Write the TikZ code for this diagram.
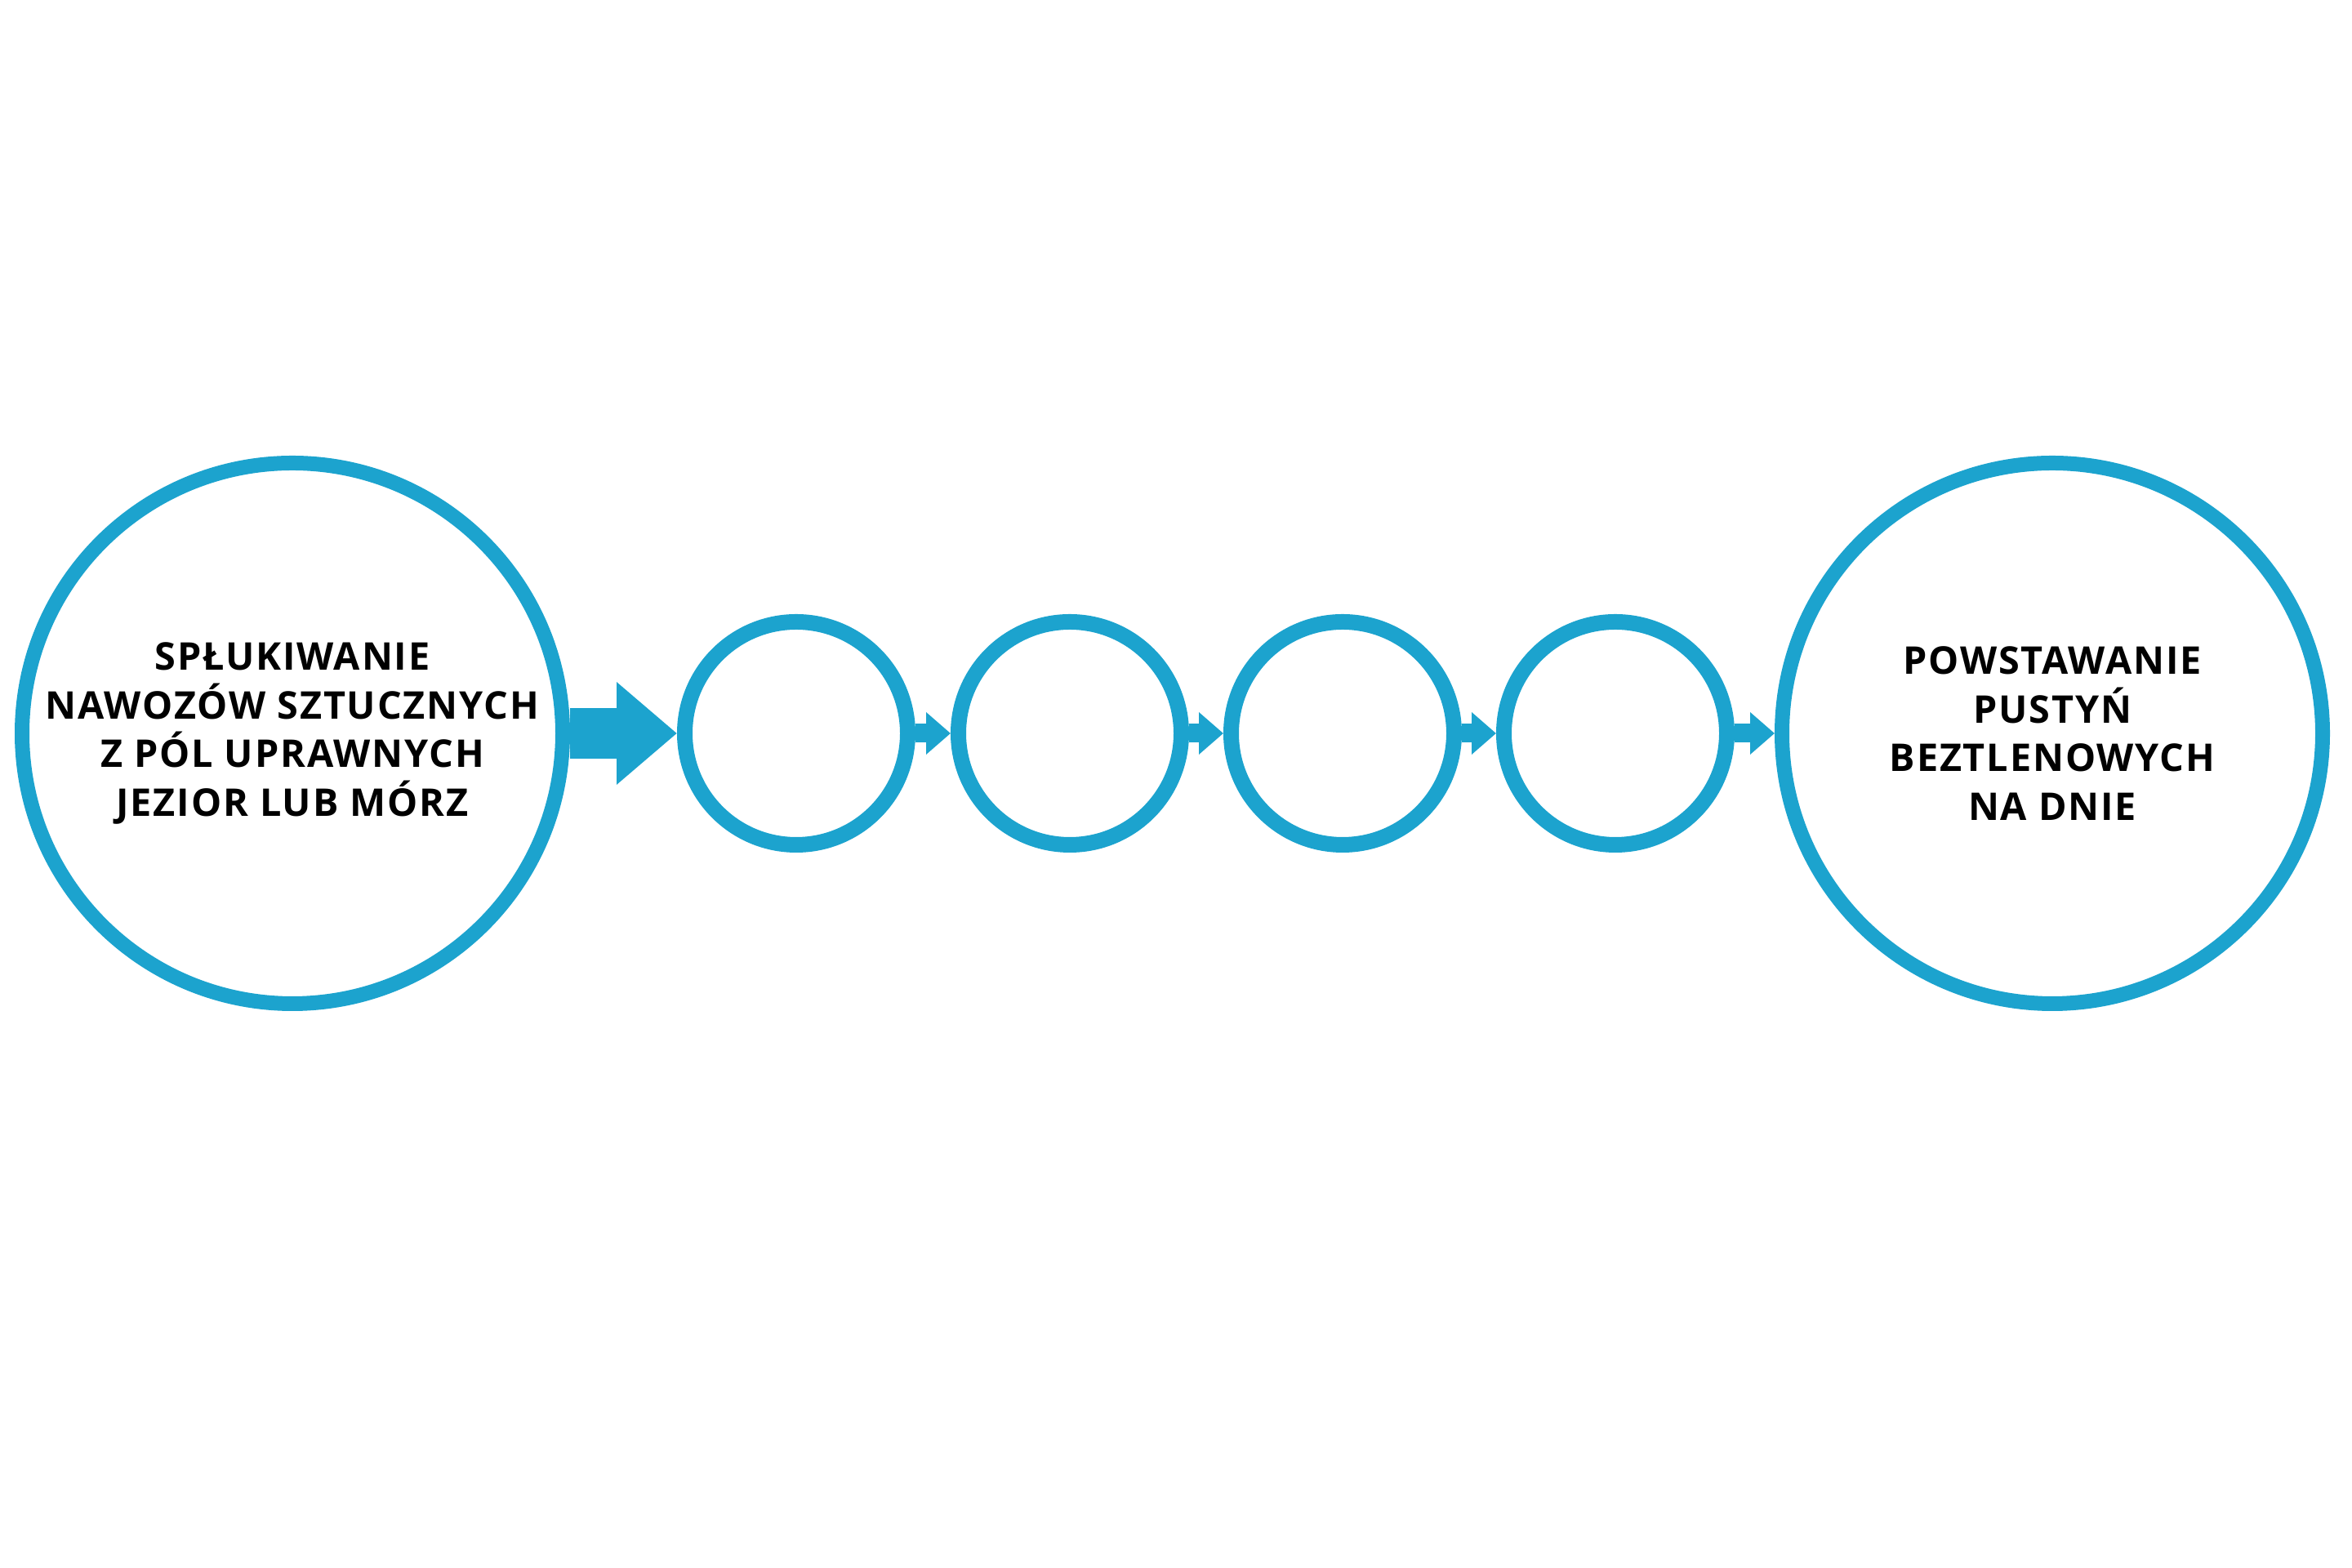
\documentclass[tikz,border=0pt]{standalone}
\usepackage{fontspec}
\setmainfont{Open Sans}[BoldFont={* Bold},LetterSpace=4]
\usetikzlibrary{arrows.meta}
\definecolor{ringblue}{HTML}{1CA3CE}
\tikzset{
  bigring/.style={circle,draw=ringblue,line width=0.18cm,minimum size=6.62cm,inner sep=0pt,
    align=center,font=\bfseries\fontsize{13.3}{17}\selectfont},
  smallring/.style={circle,draw=ringblue,line width=0.19cm,minimum size=2.73cm,inner sep=0pt},
  fatarrow/.style={draw=ringblue,line width=0.62cm,-{Triangle[length=0.74cm,width=1.21cm]}},
  thinarrow/.style={draw=ringblue,line width=0.23cm,-{Triangle[length=0.30cm,width=0.50cm]}}
}
\begin{document}
\begin{tikzpicture}
      \useasboundingbox (0,0) rectangle (28.8,19.2);
      \draw
        (3.58,10.22) node[bigring] (start){SPŁUKIWANIE\\NAWOZÓW SZTUCZNYCH\\Z PÓL UPRAWNYCH\\JEZIOR LUB MÓRZ}
        (9.75,10.22) node[smallring] (1){}
        (13.10,10.22) node[smallring] (2){}
        (16.44,10.22) node[smallring] (3){}
        (19.78,10.22) node[smallring] (4){}
        (25.13,10.22) node[bigring] (end){POWSTAWANIE\\PUSTYŃ\\BEZTLENOWYCH\\NA DNIE};
      \begin{scope}[thinarrow]
        \draw[fatarrow] (start) to (1);
        \draw (1) to (2);
        \draw (2) to (3);
        \draw (3) to (4);
        \draw (4) to (end);
      \end{scope}
    \end{tikzpicture}
\end{document}
